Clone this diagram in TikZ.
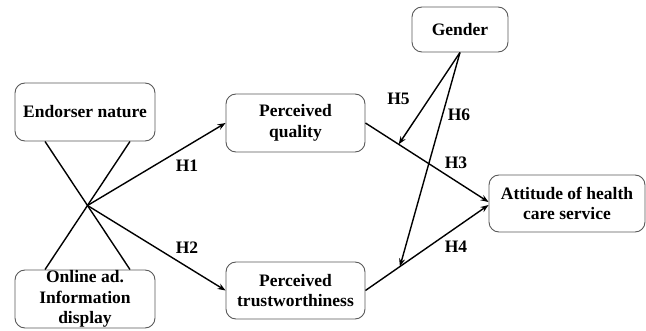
\documentclass[tikz,border=0pt]{standalone}
\usepackage{fontspec}
\setmainfont{Liberation Serif}
\usetikzlibrary{arrows.meta,calc}
\begin{document}
\begin{tikzpicture}[x=1pt,y=-1pt,
  box/.style={draw=black!65,line width=0.9pt,rounded corners=10pt,align=center,
    font=\fontsize{17.5}{20.5}\selectfont\bfseries,inner sep=0pt},
  conn/.style={line width=1.4pt,black},
  arr/.style={conn,-{Stealth[length=8pt,width=6pt]}},
  lab/.style={font=\fontsize{17.5}{18}\selectfont\bfseries,inner sep=0pt}]
\useasboundingbox (0,0) rectangle (646,331);
\node[box,minimum width=140pt,minimum height=58pt] (e) at (85,112) {Endorser nature};
\node[box,minimum width=140pt,minimum height=58pt] (o) at (85,299) {Online ad.\\Information\\display};
\node[box,minimum width=139pt,minimum height=58pt] (pq) at (295.5,123) {Perceived\\quality};
\node[box,minimum width=139pt,minimum height=57pt] (pt) at (295.5,290.5) {Perceived\\trustworthiness};
\node[box,minimum width=96pt,minimum height=45pt] (g) at (460,29.5) {Gender};
\node[box,minimum width=156pt,minimum height=57pt] (a) at (567,203.5) {Attitude of health\\care service};
\coordinate (X) at (87.5,205.5);
\draw[conn] ([xshift=-40pt]e.south) -- (X) -- ([xshift=45pt]o.north);
\draw[conn] ([xshift=45pt]e.south) -- (X) -- ([xshift=-40pt]o.north);
\draw[arr] (X) -- (pq.west);
\draw[arr] (X) -- (pt.west);
\draw[arr] (pq.east) -- ([yshift=1.5pt]a.west) coordinate[pos=0.27] (m5);
\draw[arr] (pt.east) -- ([yshift=-1.5pt]a.west) coordinate[pos=0.28] (m6);
\draw[arr] (g.south) -- (m5);
\draw[arr] (g.south) -- (m6);
\node[lab] (h1) at (187,166) {H1};
\node[lab] (h2) at (187,248) {H2};
\node[lab] (h5) at (398.5,99) {H5};
\node[lab] (h6) at (459,115) {H6};
\node[lab] (h3) at (456,163) {H3};
\node[lab] (h4) at (456,247) {H4};
\end{tikzpicture}
\end{document}
